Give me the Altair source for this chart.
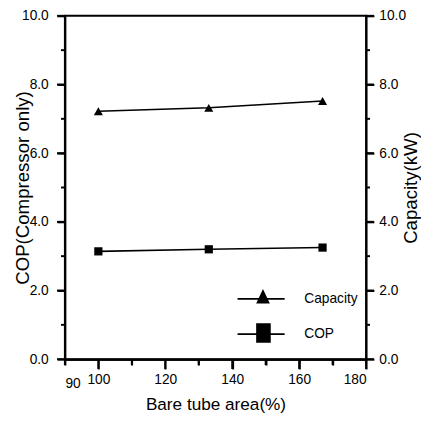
import altair as alt
import pandas as pd

# Data
area = [100, 133, 167]
capacity = [7.22, 7.32, 7.52]
cop = [3.14, 3.20, 3.25]
series_names = ["Capacity", "COP"]

x_major_ticks = [100, 120, 140, 160, 180]
x_minor_ticks = [90, 110, 130, 150, 170]
y_major_ticks = [0, 2, 4, 6, 8, 10]
y_minor_ticks = [1, 3, 5, 7, 9]

rows = []
for a, v in zip(area, capacity):
    rows.append({"area": a, "value": v, "series": "Capacity"})
for a, v in zip(area, cop):
    rows.append({"area": a, "value": v, "series": "COP"})
df = pd.DataFrame(rows)

FONT = "Liberation Sans"
W, H = 307, 350

x_scale = alt.Scale(domain=[90, 180], nice=False, zero=False)
y_scale = alt.Scale(domain=[0, 10], nice=False, zero=True)

x_major = alt.X(
    "area:Q",
    scale=x_scale,
    axis=alt.Axis(
        orient="bottom",
        values=x_major_ticks,
        format="d",
        ticks=True,
        tickSize=10,
        labelPadding=4,
        title="Bare tube area(%)",
        titleFontSize=17.5,
        titleX=W / 2,
        titleY=51,
        titleBaseline="alphabetic",
        titleAlign="center",
    ),
)

x_minor = alt.X(
    "area:Q",
    scale=x_scale,
    axis=alt.Axis(
        orient="bottom",
        values=x_minor_ticks,
        format="d",
        labelExpr="datum.value == 90 ? datum.label : ''",
        ticks=True,
        tickSize=6,
        labelPadding=12,
        title=None,
    ),
)

x_none = alt.X("area:Q", scale=x_scale, axis=None)

y_left_major = alt.Y(
    "value:Q",
    scale=y_scale,
    axis=alt.Axis(
        orient="left",
        values=y_major_ticks,
        format=".1f",
        ticks=True,
        tickSize=8,
        labelPadding=9,
        title="COP(Compressor only)",
        titleX=-37,
        titleY=H / 2,
        titleAngle=270,
        titleBaseline="alphabetic",
        titleAlign="center",
    ),
)

y_right_major = alt.Y(
    "value:Q",
    scale=y_scale,
    axis=alt.Axis(
        orient="right",
        values=y_major_ticks,
        format=".1f",
        ticks=True,
        tickSize=8,
        labelPadding=5,
        title="Capacity(kW)",
        titleX=51,
        titleY=H / 2,
        titleAngle=270,
        titleBaseline="alphabetic",
        titleAlign="center",
    ),
)

y_none = alt.Y("value:Q", scale=y_scale, axis=None)

base = alt.Chart(df)

lines = base.mark_line(color="black", strokeWidth=1.6).encode(
    x=x_major, y=y_left_major, detail="series:N"
)

cap_points = (
    base.transform_filter(alt.datum.series == "Capacity")
    .mark_point(filled=True, color="black", opacity=1, size=85, shape="triangle-up")
    .encode(x=x_minor, y=y_none)
)

cop_points = (
    base.transform_filter(alt.datum.series == "COP")
    .mark_point(filled=True, color="black", opacity=1, size=70, shape="square")
    .encode(x=x_none, y=y_none)
)

# legend symbols: thin bar (the line) plus marker, as filled custom paths
legend_paths = [
    "M-1,-0.035H1V0.035H-1ZM0.08,-0.42L0.37,0.2L-0.21,0.2Z",
    "M-1,-0.035H1V0.035H-1ZM-0.21,-0.46H0.41V0.37H-0.21Z",
]

legend_layer = base.mark_point(filled=True, color="black", opacity=0).encode(
    x=x_none,
    y=y_right_major,
    shape=alt.Shape(
        "series:N",
        scale=alt.Scale(domain=series_names, range=legend_paths),
        legend=alt.Legend(
            title=None,
            orient="none",
            legendX=175,
            legendY=272,
            padding=0,
            symbolSize=2304,
            symbolOpacity=1,
            symbolFillColor="black",
            clipHeight=33,
            rowPadding=3,
            labelOffset=19,
            labelFont=FONT,
            labelFontSize=14,
            labelColor="black",
        ),
    ),
)

# tick marks drawn as rules from the tick value lists
def ytick_layer(values, x0, x1):
    d = pd.DataFrame({"v": values})
    return alt.Chart(d).mark_rule(color="black", strokeWidth=2).encode(
        y=alt.Y("v:Q", scale=y_scale, axis=None),
        x=alt.value(x0),
        x2=alt.value(x1),
    )

def xtick_layer(values, y0, y1):
    d = pd.DataFrame({"v": values})
    return alt.Chart(d).mark_rule(color="black", strokeWidth=2).encode(
        x=alt.X("v:Q", scale=x_scale, axis=None),
        y=alt.value(y0),
        y2=alt.value(y1),
    )

tick_layers = [
    ytick_layer(y_major_ticks, -8, 0),
    ytick_layer(y_minor_ticks, -4, 0),
    ytick_layer(y_major_ticks, W, W + 8),
    ytick_layer(y_minor_ticks, W, W + 4),
    xtick_layer(x_major_ticks, H, H + 10),
    xtick_layer(x_minor_ticks, H, H + 6),
]

chart = (
    alt.layer(lines, cap_points, cop_points, legend_layer, *tick_layers)
    .resolve_scale(x="independent", y="independent")
    .properties(
        width=W,
        height=H,
        autosize=alt.AutoSizeParams(type="none"),
        padding={"left": 58, "top": 4, "right": 56, "bottom": 56},
        background="white",
    )
    .configure_view(stroke="black", strokeWidth=2)
    .configure_axis(
        grid=False,
        labelFont=FONT,
        titleFont=FONT,
        labelFontSize=14,
        titleFontSize=19,
        titleFontWeight="normal",
        labelColor="black",
        titleColor="black",
        domainColor="black",
        tickColor="black",
        domainWidth=2,
        tickWidth=2,
    )
)

chart.save("out.html", embed_options={"renderer": "svg", "actions": False})
